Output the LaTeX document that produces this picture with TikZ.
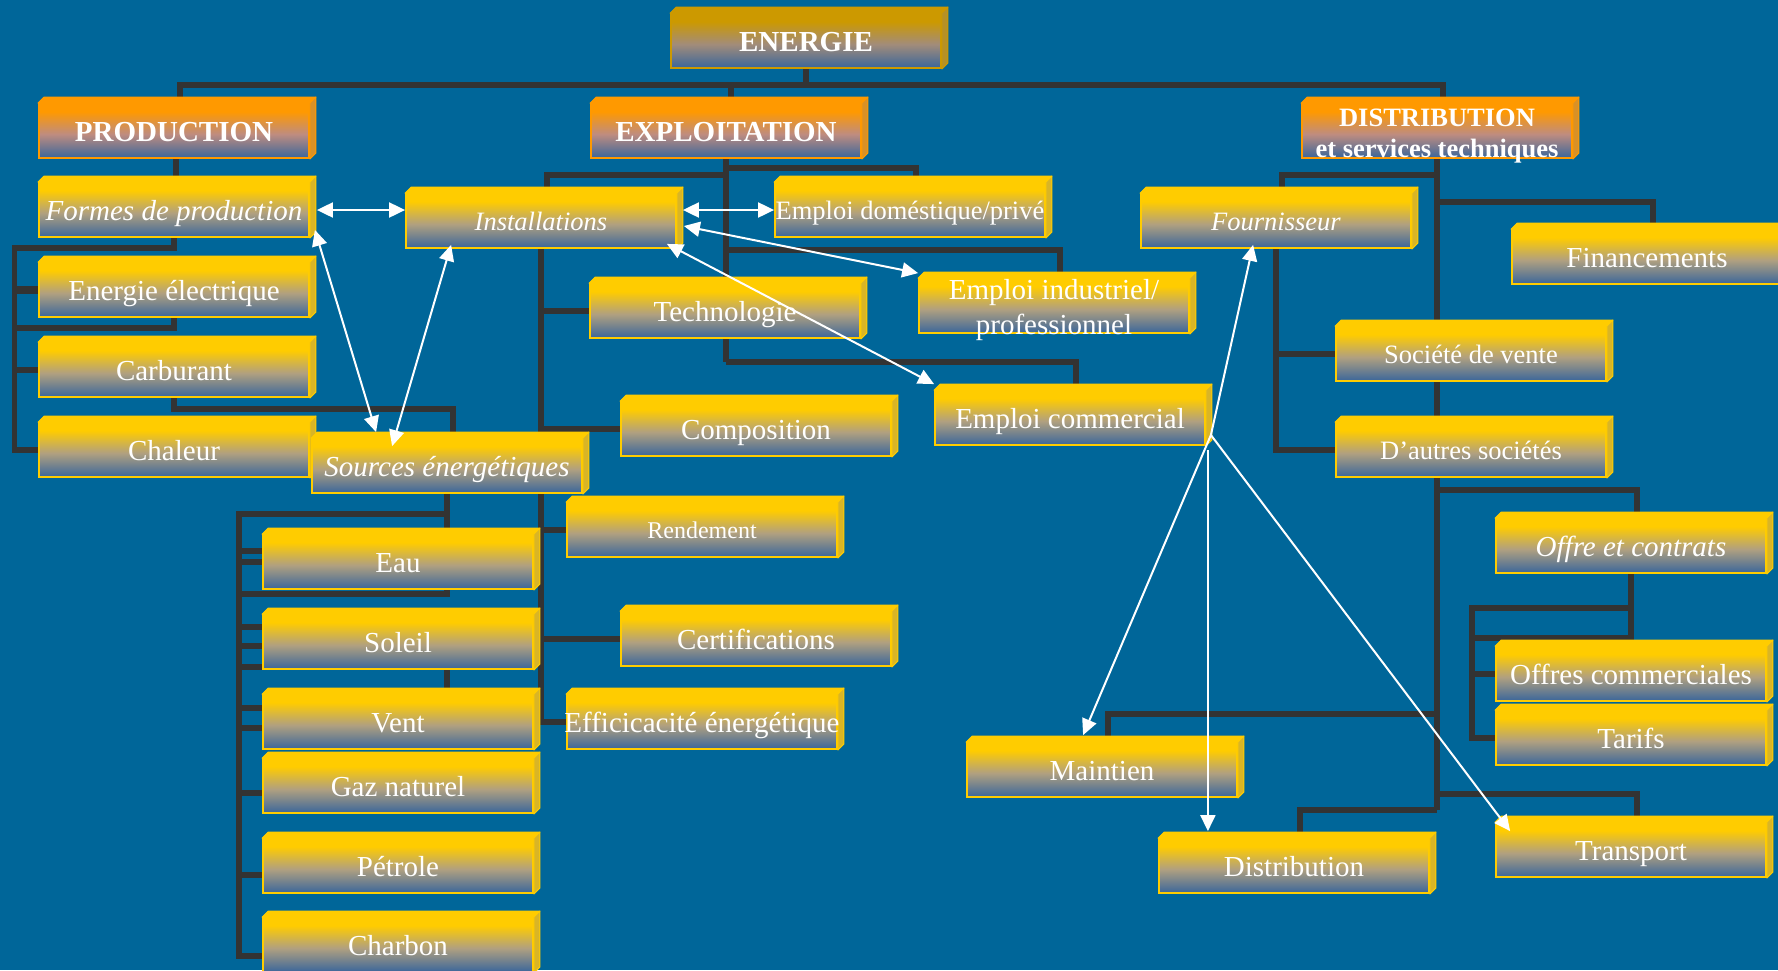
\documentclass[tikz,border=0pt]{standalone}
\usepackage{fontspec}
\setmainfont{Liberation Serif}
\usetikzlibrary{calc,arrows.meta}
\definecolor{bgblue}{RGB}{0,102,153}
\definecolor{ycol}{RGB}{255,204,0}
\definecolor{ocol}{RGB}{255,153,0}
\definecolor{gcol}{RGB}{204,153,0}
\definecolor{bcol}{RGB}{58,102,155}
\definecolor{ymid}{RGB}{176,160,128}
\definecolor{omid}{RGB}{190,140,128}
\definecolor{gmid}{RGB}{162,140,122}
\definecolor{lcol}{RGB}{51,51,51}
\pgfdeclareverticalshading{ycolshade}{100bp}{color(0bp)=(bcol); color(25bp)=(bcol); color(47bp)=(ymid); color(68bp)=(ycol); color(75bp)=(ycol); color(100bp)=(ycol)}
\pgfdeclareverticalshading{ocolshade}{100bp}{color(0bp)=(bcol); color(25bp)=(bcol); color(47bp)=(omid); color(68bp)=(ocol); color(75bp)=(ocol); color(100bp)=(ocol)}
\pgfdeclareverticalshading{gcolshade}{100bp}{color(0bp)=(bcol); color(25bp)=(bcol); color(47bp)=(gmid); color(68bp)=(gcol); color(75bp)=(gcol); color(100bp)=(gcol)}
\pgfdeclarelayer{back}
\pgfdeclarelayer{connect}
\pgfsetlayers{back,connect,main}
\newcommand\cubefaces[2]{%
  \filldraw[draw=#2,fill=#2,line width=1pt,line join=round] (#1.north west) -- ++(6,-6) -- ($(#1.north east)+(6,-6)$) -- (#1.north east) -- cycle;
  \filldraw[draw=#2,fill=#2!70!gray,line width=1pt,line join=round] (#1.north east) -- ++(6,-6) -- ($(#1.south east)+(6,-6)$) -- (#1.south east) -- cycle;
}
\newcommand\cube[6]{%
  \node[cubebox,draw=#1,shade,shading=#1shade] (#2) at (#3,#4) {};
  \cubefaces{#2}{#1}
  \node[#5] (#2T) at (#2) {#6};
}
\begin{document}
\begin{tikzpicture}[x=1pt,y=-1pt,
  cubebox/.style={rectangle,minimum width=270pt,minimum height=54pt,inner sep=0pt,
    line width=1.8pt},
  txt/.style={text=white,inner sep=0pt},
  t29/.style={txt,font=\fontsize{29}{33}\selectfont,text height=27.5pt,text depth=6pt},
  ti29/.style={txt,font=\itshape\fontsize{29}{33}\selectfont,text height=27.5pt,text depth=6pt},
  tb29/.style={txt,font=\bfseries\fontsize{29}{33}\selectfont,text height=27.5pt,text depth=6pt},
  t26/.style={txt,font=\fontsize{26.5}{30}\selectfont,text height=25pt,text depth=5.5pt},
  ti26/.style={txt,font=\itshape\fontsize{26.5}{30}\selectfont,text height=25pt,text depth=5.5pt},
  t24/.style={txt,font=\fontsize{24}{28}\selectfont,text height=22.7pt,text depth=5pt},
  tdist/.style={txt,align=center,font=\bfseries\fontsize{26.5}{31}\selectfont,yshift=-5pt},
  tindus/.style={txt,align=center,font=\fontsize{29}{35}\selectfont,yshift=-4pt},
  conn/.style={draw=lcol,line width=5.5pt,line join=miter},
  dbl/.style={draw=white,line width=2pt,{Triangle[length=16pt,width=15pt]}-{Triangle[length=16pt,width=15pt]}},
  arr/.style={draw=white,line width=2pt,-{Triangle[length=16pt,width=15pt]}}
]
\useasboundingbox (0,0) rectangle (1778,970);
\begin{pgfonlayer}{back}
\fill[bgblue] (0,0) rectangle (1778,970);
\end{pgfonlayer}

% boxes
\cube{gcol}{energie}{806}{41}{tb29}{ENERGIE}
\cube{ocol}{prod}{174}{131}{tb29}{PRODUCTION}
\cube{ocol}{expl}{726}{131}{tb29}{EXPLOITATION}
\cube{ocol}{dist}{1437}{131}{tdist}{DISTRIBUTION\\et services techniques}
\cube{ycol}{formes}{174}{210}{ti29}{Formes de production}
\cube{ycol}{elec}{174}{290}{t29}{Energie électrique}
\cube{ycol}{carb}{174}{370}{t29}{Carburant}
\cube{ycol}{chal}{174}{450}{t29}{Chaleur}
\cube{ycol}{sources}{447}{466}{ti29}{Sources énergétiques}
\cube{ycol}{inst}{541}{221}{ti26}{Installations}
\cube{ycol}{dom}{910}{210}{t26}{Emploi doméstique/privé}
\cube{ycol}{indus}{1054}{306}{tindus}{Emploi industriel/\\professionnel}
\cube{ycol}{techno}{725}{311}{t29}{Technologie}
\cube{ycol}{comm}{1070}{418}{t29}{Emploi commercial}
\cube{ycol}{compo}{756}{429}{t29}{Composition}
\cube{ycol}{rend}{702}{530}{t24}{Rendement}
\cube{ycol}{certif}{756}{639}{t29}{Certifications}
\cube{ycol}{effic}{702}{722}{t29}{Efficicacité énergétique}
\cube{ycol}{eau}{398}{562}{t29}{Eau}
\cube{ycol}{soleil}{398}{642}{t29}{Soleil}
\cube{ycol}{vent}{398}{722}{t29}{Vent}
\cube{ycol}{gaz}{398}{786}{t29}{Gaz naturel}
\cube{ycol}{petrole}{398}{866}{t29}{Pétrole}
\cube{ycol}{charbon}{398}{945}{t29}{Charbon}
\cube{ycol}{fourn}{1276}{221}{ti26}{Fournisseur}
\cube{ycol}{finan}{1647}{257}{t29}{Financements}
\cube{ycol}{societe}{1471}{354}{t26}{Société de vente}
\cube{ycol}{autres}{1471}{450}{t26}{D’autres sociétés}
\cube{ycol}{offre}{1631}{546}{ti29}{Offre et contrats}
\cube{ycol}{offres}{1631}{674}{t29}{Offres commerciales}
\cube{ycol}{tarifs}{1631}{738}{t29}{Tarifs}
\cube{ycol}{maint}{1102}{770}{t29}{Maintien}
\cube{ycol}{distr}{1294}{866}{t29}{Distribution}
\cube{ycol}{transp}{1631}{850}{t29}{Transport}

% connectors (behind boxes)
\begin{pgfonlayer}{connect}
% top level
\draw[conn] (energie.south) -- ++(0,16) coordinate (ebus);
\draw[conn] ([xshift=6pt]prod.north) |- (ebus) -| ([xshift=6pt]dist.north);
\draw[conn] ([xshift=5pt]expl.north) -- ([xshift=5pt]expl.north |- ebus);
% production
\draw[conn] ([xshift=2pt]prod.south) -- ([xshift=2pt]formes.north);
\draw[conn] (formes.south) -- ++(0,10) -| ($(chal.west)+(-23.5,0)$) -- (chal.west);
\draw[conn,line width=8.5pt] (elec.west) -- ++(-23.5,0);
\draw[conn] (carb.west) -- ++(-23.5,0);
\draw[conn] (elec.south) -- ++(0,10) -| ($(elec.west)+(-23.5,0)$);
\draw[conn] (carb.south) -- ++(0,11) -| ([xshift=6pt]sources.north);
% sources
\draw[conn] (sources.south) -- ++(0,20) -| ($(charbon.west)+(-23,11)$) -- ($(charbon.west)+(0,11)$);
\draw[conn] (sources.south) -- (sources.south |- eau.north);
\draw[conn] (sources.south |- eau.south) -- ++(0,4) -| ($(eau.west)+(-23,0)$);
\draw[conn] (sources.south |- soleil.south) -- (sources.south |- vent.north);
\draw[conn] ($(eau.west)+(0,-11)$) -- ++(-23,0);
\draw[conn] (eau.west) -- ++(-23,0);
\draw[conn] ($(soleil.west)+(0,-15)$) -- ++(-23,0);
\draw[conn] ($(soleil.west)+(0,4)$) -- ++(-23,0);
\draw[conn] ($(soleil.west)+(0,25)$) -- ++(-23,0);
\draw[conn] ($(vent.west)+(0,-14)$) -- ++(-23,0);
\draw[conn] ($(vent.west)+(0,6)$) -- ++(-23,0);
\draw[conn] ($(gaz.west)+(0,7)$) -- ++(-23,0);
\draw[conn] ($(petrole.west)+(0,9)$) -- ++(-23,0);
% exploitation
\draw[conn] (expl.south) -- ++(0,203);
\draw[conn] ([xshift=6pt]inst.north) |- ($(expl.south)+(0,16)$);
\draw[conn] ([xshift=6pt]dom.north) |- ($(expl.south)+(0,9)$);
\draw[conn] ([xshift=6pt]indus.north) |- ($(expl.south)+(0,91)$);
\draw[conn] ([xshift=6pt]comm.north) |- ($(expl.south)+(0,203)$);
% installations
\draw[conn] (inst.south) |- (effic.west);
\draw[conn] (inst.south |- techno.west) -- (techno.west);
\draw[conn] (inst.south |- compo.west) -- (compo.west);
\draw[conn] (inst.south |- rend.west) -- (rend.west);
\draw[conn] (inst.south |- certif.west) -- (certif.west);
% distribution
\draw[conn] (dist.south) -- ++(0,651);
\draw[conn] ([xshift=6pt]fourn.north) |- ($(dist.south)+(0,16)$);
\draw[conn] ([xshift=6pt]finan.north) |- ($(dist.south)+(0,43)$);
\draw[conn] (fourn.south) |- (autres.west);
\draw[conn] (fourn.south |- societe.west) -- (societe.west);
\draw[conn] ([xshift=6pt]offre.north) |- ($(dist.south)+(0,331)$);
\draw[conn] (offre.south) -- ++(0,34) -| ($(tarifs.west)+(-23,0)$) -- (tarifs.west);
\draw[conn] ($(offre.south)+(0,34)$) -- ++(0,30) -- ++(-159,0);
\draw[conn] (offres.west) -- ++(-23,0);
\draw[conn] ([xshift=6pt]maint.north) |- ($(dist.south)+(0,555)$);
\draw[conn] ([xshift=6pt]transp.north) |- ($(dist.south)+(0,635)$);
\draw[conn] ([xshift=6pt]distr.north) |- ($(dist.south)+(0,651)$);
\end{pgfonlayer}

% white arrows
\draw[dbl] ([xshift=7pt]formes.east) -- (formes.east -| inst.west);
\draw[dbl] ([xshift=6pt]inst.east |- dom.west) -- (dom.west);
\draw[dbl] ($(inst.east)+(7,5)$) -- ($(indus.north west)+(0,-5)$);
\draw[dbl] ($(inst.south east)+(-10,-5)$) -- ($(comm.north west)+(0,-6)$);
\draw[dbl] ($(formes.south east)+(5,-8)$) -- ($(sources.north west)+(65,-6)$);
\draw[dbl] ($(inst.south west)+(46,-4)$) -- ($(sources.north west)+(81,8)$);
\coordinate (hub) at ($(comm.east)+(5,17)$);
\coordinate (hubv) at ($(hub)+(-3,15)$);
\draw[arr] (hub) -- ($(fourn.south west)+(113,-4)$);
\draw[arr] (hub) -- ($(maint.north west)+(117,-7)$);
\draw[arr] (hubv) -- ($(hubv |- distr.north)+(0,-7)$);
\draw[arr] (hub) -- ($(transp.north west)+(15,9)$);
\end{tikzpicture}
\end{document}
